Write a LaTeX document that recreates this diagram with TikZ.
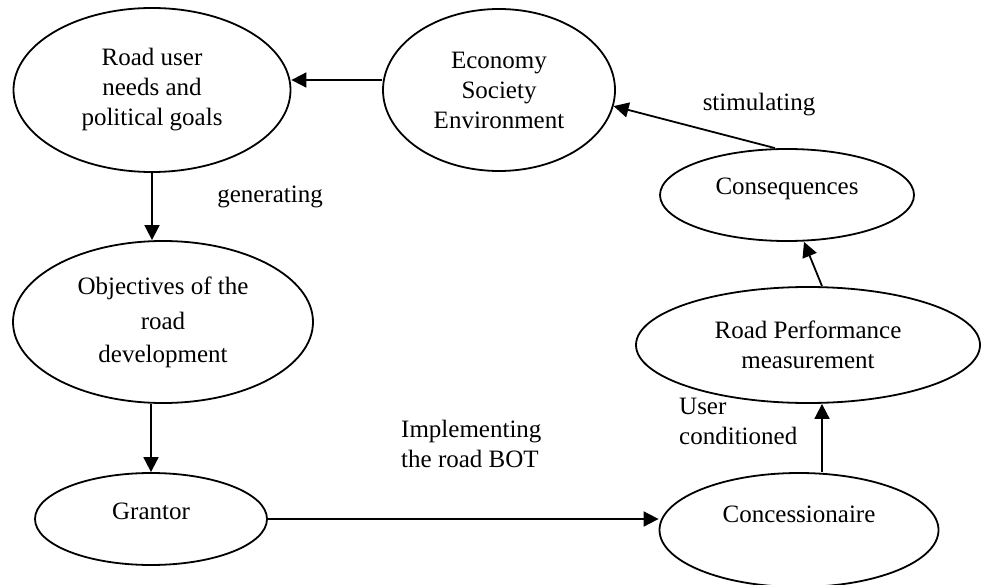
\documentclass[tikz,border=0pt]{standalone}
\usepackage{fontspec}
\setmainfont{Liberation Serif}
\usetikzlibrary{shapes.geometric,arrows.meta}
\begin{document}
\begin{tikzpicture}[x=1pt,y=-1pt,
  bubble/.style={ellipse,draw,line width=1.8pt,inner sep=0pt,align=center,
    font=\fontsize{25}{30}\selectfont},
  lbl/.style={inner sep=0pt,font=\fontsize{25}{30}\selectfont},
  arr/.style={line width=1.8pt,-{Triangle[length=15pt,width=15pt]}}]
\useasboundingbox (0,0) rectangle (981,585);

% process stages
\node[bubble,minimum width=277pt,minimum height=164pt] (ru) at (152,90)
  {Road user\\needs and\\political goals};
\node[bubble,minimum width=232pt,minimum height=162pt] (eco) at (499,90)
  {Economy\\Society\\Environment};
\node[bubble,minimum width=254pt,minimum height=92pt] (cons) at (787,195)
  {\raisebox{0pt}[0pt][0pt]{Consequences}};
\node[bubble,minimum width=300pt,minimum height=162pt] (obj) at (163,322)
  {Objectives of the\\[5pt]road\\[3pt]development};
\node[bubble,minimum width=344pt,minimum height=116pt] (rp) at (808,345)
  {Road Performance\\measurement};
\node[bubble,minimum width=232pt,minimum height=92pt] (gr) at (151,519)
  {\raisebox{0pt}[0pt][0pt]{Grantor}};
\node[bubble,minimum width=279pt,minimum height=114pt] (con) at (799,530)
  {\raisebox{8pt}[0pt][0pt]{Concessionaire}};

% flow
\draw[arr] ([yshift=10pt]eco.west) -- ([yshift=10pt]ru.east);
\draw[arr] (ru.south) -- (ru.south |- obj.north);
\draw[arr] (gr.north |- obj.south) -- (gr.north);
\draw[arr] (gr.east) -- (gr.east -| con.west);
\draw[arr] ([xshift=23pt]con.north) -- ([xshift=14pt]rp.south);
\draw[arr] ([xshift=14pt]rp.north) -- ([xshift=17pt]cons.south);
\draw[arr] ([xshift=-12pt]cons.north) -- (eco.-8);

% edge labels
\node[lbl] (gen) at (270,197) {generating};
\node[lbl] (stim) at (759,105) {stimulating};
\node[lbl,align=left,anchor=west] (impl) at (401,444) {Implementing\\the road BOT};
\node[lbl,align=left,anchor=west] (uc) at (679,421) {User\\conditioned};
\end{tikzpicture}
\end{document}
